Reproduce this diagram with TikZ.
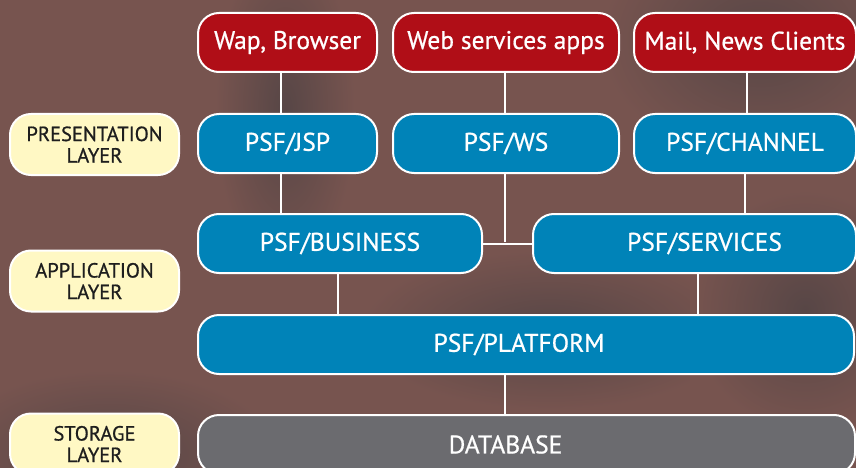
\documentclass[tikz,border=0pt]{standalone}
\usepackage{fontspec}
\setmainfont{PT Sans}[FakeBold=0.7]
\definecolor{bgc}{HTML}{77544F}
\definecolor{bgdark}{HTML}{574646}
\definecolor{redc}{HTML}{B00E17}
\definecolor{bluec}{HTML}{0083B8}
\definecolor{grayc}{HTML}{6B6B6F}
\definecolor{yelc}{HTML}{FFF8C4}
\definecolor{txtd}{HTML}{1E1E1E}
\begin{document}
\begin{tikzpicture}[x=1pt,y=-1pt,
  box/.style={draw=white,line width=2pt,rounded corners=21pt,inner sep=0pt,
    minimum height=59pt,font=\fontsize{25.5}{28}\selectfont,text=white},
  redbox/.style={box,fill=redc},
  bluebox/.style={box,fill=bluec},
  graybox/.style={box,fill=grayc},
  lbl/.style={text=white,font=\fontsize{25.5}{28}\selectfont},
  layerbox/.style={box,fill=yelc,text=txtd,minimum width=169pt,minimum height=61pt,
    align=center,font=\fontsize{20.5}{21.5}\selectfont},
  conn/.style={draw=white,line width=2pt}]
\useasboundingbox (0,0) rectangle (856,468);
\begin{scope}
\clip (0,0) rectangle (856,468);
\fill[bgc] (0,0) rectangle (856,468);
\shade[inner color=bgdark,outer color=bgc] (215,-60) rectangle (355,280);
\shade[inner color=bgdark,outer color=bgc] (600,-80) rectangle (920,160);
\shade[inner color=bgdark,outer color=bgc] (360,250) rectangle (740,410);
\shade[inner color=bgdark,outer color=bgc] (-60,370) rectangle (280,540);
\shade[inner color=bgdark,outer color=bgc] (690,190) rectangle (920,430);

% top row
\node[redbox,minimum width=179pt] (wap) at (287.5,42.5) {Wap, Browser};
\node[redbox,minimum width=226pt] (web) at (506,42.5) {Web services apps};
\node[redbox,minimum width=222pt] (mail) at (745,42.5) {Mail, News Clients};
% presentation
\node[bluebox,minimum width=179pt] (jsp) at (287.5,143.5) {PSF/JSP};
\node[bluebox,minimum width=226pt] (ws) at (506,143.5) {PSF/WS};
\node[bluebox,minimum width=222pt] (chan) at (745,143.5) {PSF/CHANNEL};
% application
\node[bluebox,minimum width=284pt] (bus) at (340,243.5) {PSF/BUSINESS};
\node[bluebox,minimum width=323pt,label={[lbl,xshift=10pt]center:PSF/SERVICES}] (serv) at (694.5,243.5) {};
\node[bluebox,minimum width=656pt,label={[lbl,xshift=-7pt]center:PSF/PLATFORM}] (plat) at (526,344.5) {};
% storage
\node[graybox,minimum width=657pt,label={[lbl,xshift=-21pt]center:DATABASE}] (db) at (526.5,444.5) {};
% layer labels
\node[layerbox] (pres) at (94.5,144.5) {PRESENTATION\\LAYER};
\node[layerbox] (app) at (94.5,281) {APPLICATION\\LAYER};
\node[layerbox] (stor) at (94.5,444) {STORAGE\\LAYER};

% connectors
\draw[conn] ([xshift=-6.5pt]wap.south) -- ([xshift=-6.5pt]jsp.north);
\draw[conn] ([xshift=-6.5pt]jsp.south) -- ([xshift=-6.5pt]jsp.south |- bus.north);
\draw[conn] ([xshift=-1pt]web.south) -- ([xshift=-1pt]ws.north);
\draw[conn] ([xshift=2pt]mail.south) -- ([xshift=2pt]chan.north);
\draw[conn] (chan.south) -- (chan.south |- serv.north);
\draw[conn] (bus.east) -- (serv.west);
\draw[conn] ([xshift=-1pt]ws.south) -- ([xshift=-1pt,yshift=1.5pt]ws.south |- bus.east);
\draw[conn] ([xshift=-2pt]bus.south) -- ([xshift=-2pt]bus.south |- plat.north);
\draw[conn] ([xshift=3.5pt]serv.south) -- ([xshift=3.5pt]serv.south |- plat.north);
\draw[conn] ([xshift=-21pt]plat.south) -- ([xshift=-21.5pt]db.north);
\end{scope}
\end{tikzpicture}
\end{document}
